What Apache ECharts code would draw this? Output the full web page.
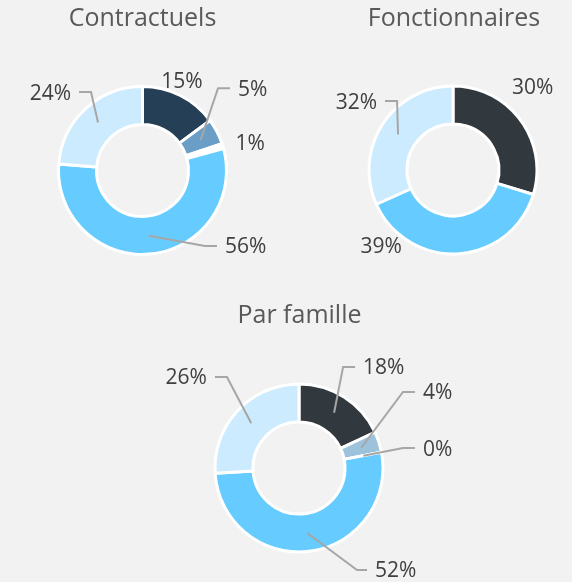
<!DOCTYPE html>
<html>
<head>
<meta charset="utf-8">
<script src="https://cdn.jsdelivr.net/npm/echarts@6/dist/echarts.min.js"></script>
<style>
  html, body { margin: 0; padding: 0; background: #F2F2F2; }
  #chart { width: 572px; height: 582px; }
</style>
</head>
<body>
<div id="chart"></div>
<script>
// Répartition des effectifs (en %)
const titres = ['Contractuels', 'Fonctionnaires', 'Par famille'];

const famillesContractuels = ['Famille 1', 'Famille 2', 'Famille 3', 'Famille 4', 'Famille 5'];
const contractuels = [15, 5, 1, 56, 24];

const famillesFonctionnaires = ['Famille 1', 'Famille 4', 'Famille 5'];
const fonctionnaires = [30, 39, 32];

const famillesEnsemble = ['Famille 1', 'Famille 2', 'Famille 3', 'Famille 4', 'Famille 5'];
const parFamille = [18, 4, 0, 52, 26];

// Palette de chaque anneau
const couleursContractuels = ['#243F56', '#6A9EC6', '#FFFFFF', '#66CCFF', '#CCEBFF'];
const couleursFonctionnaires = ['#32393E', '#66CCFF', '#CCEBFF'];
const couleursEnsemble = ['#32393E', '#9DC3DC', '#FFFFFF', '#66CCFF', '#CCEBFF'];

const FONT = '"Open Sans", "Noto Sans", sans-serif';
const RADIUS = [46, 84];
const INSET = 18.5;   // distance from outer edge to the mid-ring anchor
const GAP = 8;        // space between leader end and label text

// Label placement relative to the mid-ring anchor of each slice:
//   text  -> label centred at this offset, no leader line
//   elbow -> leader bends here, then runs horizontally to the label
const placements = [
  [{ text: [10, -30] }, { elbow: [17.5, -52] }, { text: [45, -7.5] }, { elbow: [56.4, 10.3] }, { elbow: [-7, -30.4] }],
  [{ text: [27, -43] }, { text: [-76, 11.6] }, { elbow: [-1, -33.3] }],
  [{ elbow: [9, -45.7] }, { elbow: [41.7, -55.8] }, { elbow: [39.7, -7.7] }, { elbow: [49.8, 37], h: 10 }, { elbow: [-24.3, -46.2] }]
];

function layoutFor(k) {
  return function (p) {
    const pl = placements[k][p.dataIndex];
    const pts = p.labelLinePoints;
    const p0 = pts[0], p1 = pts[1];
    const vx = p1[0] - p0[0], vy = p1[1] - p0[1];
    const len = Math.hypot(vx, vy) || 1;
    const ax = p0[0] - vx / len * INSET;
    const ay = p0[1] - vy / len * INSET;
    if (pl.text) {
      return {
        x: ax + pl.text[0], y: ay + pl.text[1],
        align: 'center', verticalAlign: 'middle',
        labelLinePoints: [[ax, ay], [ax, ay]]
      };
    }
    const ex = ax + pl.elbow[0], ey = ay + pl.elbow[1];
    const dir = pl.elbow[0] >= 0 ? 1 : -1;
    const lx = ex + dir * (pl.h || 12);
    return {
      x: lx + dir * GAP, y: ey + 1.5,
      align: dir > 0 ? 'left' : 'right', verticalAlign: 'middle',
      labelLinePoints: [[ax, ay], [ex, ey], [lx, ey]]
    };
  };
}

const base = {
  type: 'pie',
  radius: RADIUS,
  startAngle: 90,
  clockwise: true,
  avoidLabelOverlap: false,
  silent: true
};

// Coloured ring
function ring(names, values, colors, center) {
  return Object.assign({}, base, {
    center: center,
    z: 2,
    itemStyle: { borderColor: '#FFFFFF', borderWidth: 3 },
    label: { show: false },
    labelLine: { show: false },
    data: names.map((n, i) => ({ name: n, value: values[i], itemStyle: { color: colors[i] } }))
  });
}

// Same slices, transparent, carrying the percentage labels and leaders on top
function labels(k, names, values, center) {
  return Object.assign({}, base, {
    center: center,
    z: 3,
    itemStyle: { color: 'rgba(0,0,0,0)', borderWidth: 0 },
    label: {
      show: true, position: 'outside', formatter: '{c}%',
      color: '#404040', fontFamily: FONT, fontSize: 21
    },
    labelLine: {
      show: true, length: 10, length2: 5,
      lineStyle: { color: '#A6A6A6', width: 2, opacity: 1 }
    },
    labelLayout: layoutFor(k),
    data: names.map((n, i) => ({ name: n, value: values[i] }))
  });
}

const centres = [[142.5, 170.5], [453, 170], [299, 468]];
const titleCenters = [[142.5, 19], [454, 19], [299.5, 316]];

const chart = echarts.init(document.getElementById('chart'), null, { renderer: 'canvas' });
chart.setOption({
  backgroundColor: '#F2F2F2',
  animation: false,
  graphic: titres.map((t, i) => ({
    type: 'text',
    x: titleCenters[i][0], y: titleCenters[i][1],
    style: {
      text: t, align: 'center', verticalAlign: 'middle',
      fill: '#595959', font: '25px ' + FONT
    }
  })),
  series: [
    ring(famillesContractuels, contractuels, couleursContractuels, centres[0]),
    ring(famillesFonctionnaires, fonctionnaires, couleursFonctionnaires, centres[1]),
    ring(famillesEnsemble, parFamille, couleursEnsemble, centres[2]),
    labels(0, famillesContractuels, contractuels, centres[0]),
    labels(1, famillesFonctionnaires, fonctionnaires, centres[1]),
    labels(2, famillesEnsemble, parFamille, centres[2])
  ]
});
</script>
</body>
</html>
